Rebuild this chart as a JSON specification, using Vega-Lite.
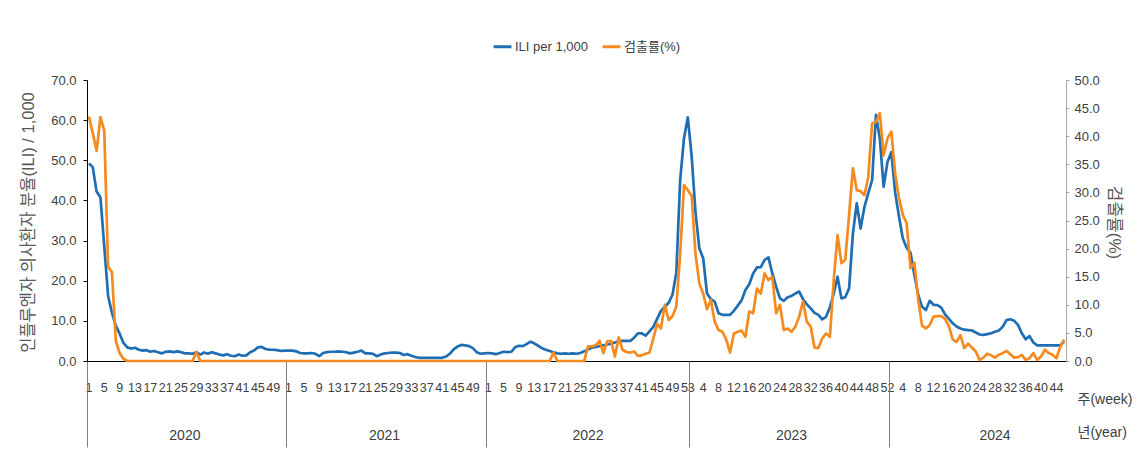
{
"$schema": "https://vega.github.io/schema/vega-lite/v6.json",
"width": 979, "height": 281,
"autosize": {"type": "none"},
"padding": {"left": 87, "top": 80, "right": 72, "bottom": 113},
"background": "white",
"config": {"view": {"stroke": null}, "font": "Liberation Sans, Noto Sans CJK KR, sans-serif",
  "axis": {"grid": false, "labelFont": "Liberation Sans, Noto Sans CJK KR, sans-serif", "titleFont": "Liberation Sans, Noto Sans CJK KR, sans-serif", "labelColor": "#404040", "titleColor": "#404040", "titleFontWeight": "normal"},
  "legend": {"labelFont": "Liberation Sans, Noto Sans CJK KR, sans-serif"}},
"datasets": {"flu": [
{"t":"2020-01","ili":49.2,"det":43.5},{"t":"2020-02","ili":48.3,"det":40.5},{"t":"2020-03","ili":42.2,"det":37.4},{"t":"2020-04","ili":40.8,"det":43.4},{"t":"2020-05","ili":28.5,"det":41.0},{"t":"2020-06","ili":16.2,"det":16.8},{"t":"2020-07","ili":12.0,"det":15.8},{"t":"2020-08","ili":8.8,"det":3.6},{"t":"2020-09","ili":6.8,"det":1.4},{"t":"2020-10","ili":4.5,"det":0.4},
{"t":"2020-11","ili":3.4,"det":0},{"t":"2020-12","ili":3.1,"det":0},{"t":"2020-13","ili":3.3,"det":0},{"t":"2020-14","ili":2.8,"det":0},{"t":"2020-15","ili":2.6,"det":0},{"t":"2020-16","ili":2.7,"det":0},{"t":"2020-17","ili":2.3,"det":0},{"t":"2020-18","ili":2.5,"det":0},{"t":"2020-19","ili":2.2,"det":0},{"t":"2020-20","ili":1.9,"det":0},
{"t":"2020-21","ili":2.3,"det":0},{"t":"2020-22","ili":2.4,"det":0},{"t":"2020-23","ili":2.2,"det":0},{"t":"2020-24","ili":2.4,"det":0},{"t":"2020-25","ili":2.2,"det":0},{"t":"2020-26","ili":1.9,"det":0},{"t":"2020-27","ili":1.9,"det":0},{"t":"2020-28","ili":1.8,"det":0},{"t":"2020-29","ili":2.2,"det":1.6},{"t":"2020-30","ili":1.6,"det":0},
{"t":"2020-31","ili":2.1,"det":0},{"t":"2020-32","ili":1.8,"det":0},{"t":"2020-33","ili":2.2,"det":0},{"t":"2020-34","ili":1.9,"det":0},{"t":"2020-35","ili":1.6,"det":0},{"t":"2020-36","ili":1.4,"det":0},{"t":"2020-37","ili":1.7,"det":0},{"t":"2020-38","ili":1.3,"det":0},{"t":"2020-39","ili":1.2,"det":0},{"t":"2020-40","ili":1.6,"det":0},
{"t":"2020-41","ili":1.3,"det":0},{"t":"2020-42","ili":1.4,"det":0},{"t":"2020-43","ili":2.2,"det":0},{"t":"2020-44","ili":2.6,"det":0},{"t":"2020-45","ili":3.4,"det":0},{"t":"2020-46","ili":3.5,"det":0},{"t":"2020-47","ili":3.0,"det":0},{"t":"2020-48","ili":2.8,"det":0},{"t":"2020-49","ili":2.8,"det":0},{"t":"2020-50","ili":2.7,"det":0},
{"t":"2020-51","ili":2.5,"det":0},{"t":"2020-52","ili":2.6,"det":0},
{"t":"2021-01","ili":2.6,"det":0},{"t":"2021-02","ili":2.6,"det":0},{"t":"2021-03","ili":2.4,"det":0},{"t":"2021-04","ili":2.0,"det":0},{"t":"2021-05","ili":1.9,"det":0},{"t":"2021-06","ili":1.9,"det":0},{"t":"2021-07","ili":2.0,"det":0},{"t":"2021-08","ili":1.8,"det":0},{"t":"2021-09","ili":1.2,"det":0},{"t":"2021-10","ili":2.0,"det":0},
{"t":"2021-11","ili":2.2,"det":0},{"t":"2021-12","ili":2.3,"det":0},{"t":"2021-13","ili":2.3,"det":0},{"t":"2021-14","ili":2.4,"det":0},{"t":"2021-15","ili":2.3,"det":0},{"t":"2021-16","ili":2.2,"det":0},{"t":"2021-17","ili":1.9,"det":0},{"t":"2021-18","ili":2.1,"det":0},{"t":"2021-19","ili":2.3,"det":0},{"t":"2021-20","ili":2.6,"det":0},
{"t":"2021-21","ili":1.9,"det":0},{"t":"2021-22","ili":1.9,"det":0},{"t":"2021-23","ili":1.8,"det":0},{"t":"2021-24","ili":1.2,"det":0},{"t":"2021-25","ili":1.6,"det":0},{"t":"2021-26","ili":1.9,"det":0},{"t":"2021-27","ili":2.0,"det":0},{"t":"2021-28","ili":2.1,"det":0},{"t":"2021-29","ili":2.1,"det":0},{"t":"2021-30","ili":2.0,"det":0},
{"t":"2021-31","ili":1.5,"det":0},{"t":"2021-32","ili":1.7,"det":0},{"t":"2021-33","ili":1.3,"det":0},{"t":"2021-34","ili":1.0,"det":0},{"t":"2021-35","ili":0.8,"det":0},{"t":"2021-36","ili":0.8,"det":0},{"t":"2021-37","ili":0.8,"det":0},{"t":"2021-38","ili":0.8,"det":0},{"t":"2021-39","ili":0.8,"det":0},{"t":"2021-40","ili":0.8,"det":0},
{"t":"2021-41","ili":0.8,"det":0},{"t":"2021-42","ili":1.1,"det":0},{"t":"2021-43","ili":1.8,"det":0},{"t":"2021-44","ili":2.9,"det":0},{"t":"2021-45","ili":3.6,"det":0},{"t":"2021-46","ili":4.0,"det":0},{"t":"2021-47","ili":3.9,"det":0},{"t":"2021-48","ili":3.7,"det":0},{"t":"2021-49","ili":3.2,"det":0},{"t":"2021-50","ili":2.2,"det":0},
{"t":"2021-51","ili":1.8,"det":0},{"t":"2021-52","ili":1.9,"det":0},
{"t":"2022-01","ili":2.0,"det":0},{"t":"2022-02","ili":1.9,"det":0},{"t":"2022-03","ili":1.7,"det":0},{"t":"2022-04","ili":2.0,"det":0},{"t":"2022-05","ili":2.3,"det":0},{"t":"2022-06","ili":2.2,"det":0},{"t":"2022-07","ili":2.3,"det":0},{"t":"2022-08","ili":3.4,"det":0},{"t":"2022-09","ili":3.8,"det":0},{"t":"2022-10","ili":3.7,"det":0},
{"t":"2022-11","ili":4.2,"det":0},{"t":"2022-12","ili":4.8,"det":0},{"t":"2022-13","ili":4.4,"det":0},{"t":"2022-14","ili":3.8,"det":0},{"t":"2022-15","ili":3.2,"det":0},{"t":"2022-16","ili":2.8,"det":0},{"t":"2022-17","ili":2.5,"det":0},{"t":"2022-18","ili":2.2,"det":1.5},{"t":"2022-19","ili":1.9,"det":0},{"t":"2022-20","ili":1.8,"det":0},
{"t":"2022-21","ili":1.9,"det":0},{"t":"2022-22","ili":1.8,"det":0},{"t":"2022-23","ili":1.9,"det":0},{"t":"2022-24","ili":1.8,"det":0},{"t":"2022-25","ili":2.0,"det":0},{"t":"2022-26","ili":2.4,"det":0},{"t":"2022-27","ili":2.9,"det":2.6},{"t":"2022-28","ili":3.3,"det":2.6},{"t":"2022-29","ili":3.5,"det":2.8},{"t":"2022-30","ili":3.7,"det":3.6},
{"t":"2022-31","ili":3.9,"det":1.4},{"t":"2022-32","ili":4.1,"det":3.5},{"t":"2022-33","ili":4.3,"det":3.6},{"t":"2022-34","ili":4.6,"det":0.8},{"t":"2022-35","ili":4.9,"det":4.2},{"t":"2022-36","ili":5.0,"det":2.0},{"t":"2022-37","ili":5.0,"det":1.6},{"t":"2022-38","ili":5.0,"det":1.5},{"t":"2022-39","ili":5.8,"det":1.7},{"t":"2022-40","ili":6.9,"det":0.9},
{"t":"2022-41","ili":6.9,"det":1.0},{"t":"2022-42","ili":6.3,"det":1.3},{"t":"2022-43","ili":7.4,"det":1.5},{"t":"2022-44","ili":8.5,"det":4.0},{"t":"2022-45","ili":10.5,"det":6.6},{"t":"2022-46","ili":12.5,"det":5.8},{"t":"2022-47","ili":13.5,"det":10.0},{"t":"2022-48","ili":14.5,"det":7.3},{"t":"2022-49","ili":16.5,"det":8.0},{"t":"2022-50","ili":22.0,"det":9.7},
{"t":"2022-51","ili":45.0,"det":19.0},{"t":"2022-52","ili":55.5,"det":31.3},{"t":"2022-53","ili":60.7,"det":30.4},
{"t":"2023-01","ili":51.0,"det":29.4},{"t":"2023-02","ili":37.0,"det":19.0},{"t":"2023-03","ili":28.0,"det":13.8},{"t":"2023-04","ili":25.6,"det":12.0},{"t":"2023-05","ili":16.8,"det":9.2},{"t":"2023-06","ili":15.4,"det":10.9},{"t":"2023-07","ili":14.8,"det":7.0},{"t":"2023-08","ili":11.9,"det":5.5},{"t":"2023-09","ili":11.5,"det":5.2},{"t":"2023-10","ili":11.5,"det":3.8},
{"t":"2023-11","ili":11.5,"det":1.5},{"t":"2023-12","ili":12.5,"det":4.9},{"t":"2023-13","ili":13.8,"det":5.2},{"t":"2023-14","ili":15.1,"det":5.4},{"t":"2023-15","ili":17.7,"det":4.3},{"t":"2023-16","ili":19.1,"det":8.8},{"t":"2023-17","ili":21.8,"det":8.5},{"t":"2023-18","ili":23.3,"det":12.9},{"t":"2023-19","ili":23.4,"det":12.0},{"t":"2023-20","ili":25.2,"det":15.6},
{"t":"2023-21","ili":25.8,"det":14.4},{"t":"2023-22","ili":21.8,"det":15.0},{"t":"2023-23","ili":18.5,"det":8.5},{"t":"2023-24","ili":15.6,"det":10.0},{"t":"2023-25","ili":15.0,"det":5.5},{"t":"2023-26","ili":15.9,"det":5.8},{"t":"2023-27","ili":16.2,"det":5.2},{"t":"2023-28","ili":16.8,"det":6.1},{"t":"2023-29","ili":17.3,"det":7.9},{"t":"2023-30","ili":15.4,"det":10.6},
{"t":"2023-31","ili":14.1,"det":7.0},{"t":"2023-32","ili":13.1,"det":6.1},{"t":"2023-33","ili":12.0,"det":2.4},{"t":"2023-34","ili":11.5,"det":2.3},{"t":"2023-35","ili":10.4,"det":4.0},{"t":"2023-36","ili":11.0,"det":4.9},{"t":"2023-37","ili":13.4,"det":4.3},{"t":"2023-38","ili":16.8,"det":14.4},{"t":"2023-39","ili":21.0,"det":22.4},{"t":"2023-40","ili":15.6,"det":17.4},
{"t":"2023-41","ili":15.9,"det":18.0},{"t":"2023-42","ili":18.1,"det":26.0},{"t":"2023-43","ili":31.8,"det":34.3},{"t":"2023-44","ili":39.3,"det":30.4},{"t":"2023-45","ili":33.0,"det":30.2},{"t":"2023-46","ili":38.4,"det":29.5},{"t":"2023-47","ili":41.8,"det":32.8},{"t":"2023-48","ili":45.1,"det":42.3},{"t":"2023-49","ili":61.3,"det":42.5},{"t":"2023-50","ili":55.5,"det":44.1},
{"t":"2023-51","ili":43.4,"det":36.6},{"t":"2023-52","ili":49.6,"det":39.6},
{"t":"2024-01","ili":52.0,"det":40.8},{"t":"2024-02","ili":42.0,"det":33.4},{"t":"2024-03","ili":36.0,"det":29.0},{"t":"2024-04","ili":30.5,"det":26.0},{"t":"2024-05","ili":28.2,"det":24.5},{"t":"2024-06","ili":27.0,"det":16.5},{"t":"2024-07","ili":21.5,"det":17.5},{"t":"2024-08","ili":16.5,"det":11.0},{"t":"2024-09","ili":13.5,"det":6.3},{"t":"2024-10","ili":12.7,"det":5.8},
{"t":"2024-11","ili":15.0,"det":6.4},{"t":"2024-12","ili":14.0,"det":7.9},{"t":"2024-13","ili":13.9,"det":8.0},{"t":"2024-14","ili":13.3,"det":8.0},{"t":"2024-15","ili":11.6,"det":7.5},{"t":"2024-16","ili":10.5,"det":6.2},{"t":"2024-17","ili":9.4,"det":3.8},{"t":"2024-18","ili":8.6,"det":3.4},{"t":"2024-19","ili":8.1,"det":4.6},{"t":"2024-20","ili":7.8,"det":2.3},
{"t":"2024-21","ili":7.7,"det":3.1},{"t":"2024-22","ili":7.6,"det":2.4},{"t":"2024-23","ili":7.1,"det":1.7},{"t":"2024-24","ili":6.6,"det":0.2},{"t":"2024-25","ili":6.5,"det":0.6},{"t":"2024-26","ili":6.7,"det":1.3},{"t":"2024-27","ili":6.9,"det":1.0},{"t":"2024-28","ili":7.3,"det":0.6},{"t":"2024-29","ili":7.6,"det":1.1},{"t":"2024-30","ili":8.5,"det":1.4},
{"t":"2024-31","ili":10.2,"det":1.8},{"t":"2024-32","ili":10.4,"det":1.2},{"t":"2024-33","ili":10.0,"det":0.6},{"t":"2024-34","ili":9.0,"det":0.7},{"t":"2024-35","ili":6.9,"det":1.1},{"t":"2024-36","ili":5.4,"det":0.2},{"t":"2024-37","ili":6.2,"det":0.5},{"t":"2024-38","ili":4.6,"det":1.4},{"t":"2024-39","ili":3.9,"det":0.2},{"t":"2024-40","ili":3.9,"det":0.8},
{"t":"2024-41","ili":3.9,"det":2.0},{"t":"2024-42","ili":3.9,"det":1.4},{"t":"2024-43","ili":3.9,"det":1.1},{"t":"2024-44","ili":3.9,"det":0.5},{"t":"2024-45","ili":3.9,"det":2.5},{"t":"2024-46","ili":4.8,"det":3.8}
]},
"data": {"name": "flu"},
"resolve": {"scale": {"y": "independent"}, "axis": {"x": "independent", "y": "independent"}},
"layer": [
 {"mark": {"type": "line", "strokeWidth": 2.7, "strokeJoin": "round"},
  "encoding": {
   "x": {"field": "t", "type": "ordinal", "bandPosition": 0.5,
     "scale": {"type": "band", "paddingInner": 0, "paddingOuter": 0},
     "axis": {"orient": "bottom",
       "values": ["2020-01","2020-05","2020-09","2020-13","2020-17","2020-21","2020-25","2020-29","2020-33","2020-37","2020-41","2020-45","2020-49",
                  "2021-01","2021-05","2021-09","2021-13","2021-17","2021-21","2021-25","2021-29","2021-33","2021-37","2021-41","2021-45","2021-49",
                  "2022-01","2022-05","2022-09","2022-13","2022-17","2022-21","2022-25","2022-29","2022-33","2022-37","2022-41","2022-45","2022-49","2022-53",
                  "2023-04","2023-08","2023-12","2023-16","2023-20","2023-24","2023-28","2023-32","2023-36","2023-40","2023-44","2023-48","2023-52",
                  "2024-04","2024-08","2024-12","2024-16","2024-20","2024-24","2024-28","2024-32","2024-36","2024-40","2024-44"],
       "labelExpr": "parseInt(slice(datum.value, 5))",
       "ticks": false, "domainColor": "#000000", "domainWidth": 1,
       "labelAngle": 0, "labelFontSize": 12.5, "labelPadding": 20, "labelOverlap": false, "labelBound": false, "labelFlush": false,
       "title": "주(week)", "titleX": 990, "titleY": 38, "titleAngle": 0, "titleAlign": "left", "titleBaseline": "middle", "titleFontSize": 14}},
   "y": {"field": "ili", "type": "quantitative",
     "scale": {"domain": [0, 70], "nice": false},
     "axis": {"orient": "left", "values": [0,10,20,30,40,50,60,70], "format": ".1f",
       "domainColor": "#000000", "tickColor": "#000000", "tickSize": 4, "labelPadding": 7, "labelFontSize": 13,
       "title": "인플루엔자 의사환자 분율(ILI) / 1,000", "titleX": -59, "titleY": 142, "titleAngle": -90, "titleAlign": "center", "titleBaseline": "middle", "titleFontSize": 16.5, "titleColor": "#595959"}},
   "color": {"datum": "ILI per 1,000", "type": "nominal",
     "scale": {"domain": ["ILI per 1,000", "검출률(%)"], "range": ["#1f6eb3", "#f58a1f"]},
     "legend": {"orient": "none", "legendX": 405, "legendY": -44, "direction": "horizontal", "title": null,
       "symbolType": "stroke", "symbolStrokeWidth": 3, "symbolSize": 320, "labelFontSize": 13, "labelColor": "#404040",
       "columnPadding": 8, "labelOffset": 2, "padding": 0}}
  }},
 {"mark": {"type": "line", "strokeWidth": 2.7, "strokeJoin": "round"},
  "encoding": {
   "x": {"field": "t", "type": "ordinal", "bandPosition": 0.5,
     "axis": {"orient": "bottom", "values": ["2020-26","2021-26","2022-27","2023-27","2024-28"],
       "labelExpr": "slice(datum.value, 0, 4)", "ticks": false, "domain": false,
       "labelAngle": 0, "labelFontSize": 14, "labelPadding": 67, "labelOverlap": false, "labelBound": false, "labelFlush": false,
       "title": "년(year)", "titleX": 990, "titleY": 71, "titleAngle": 0, "titleAlign": "left", "titleBaseline": "middle", "titleFontSize": 14}},
   "y": {"field": "det", "type": "quantitative",
     "scale": {"domain": [0, 50], "nice": false},
     "axis": {"orient": "right", "values": [0,5,10,15,20,25,30,35,40,45,50], "format": ".1f",
       "domainColor": "#a6a6a6", "tickColor": "#a6a6a6", "tickSize": 3, "labelPadding": 5, "labelFontSize": 13,
       "title": "검출률(%)", "titleX": 47, "titleY": 142, "titleAngle": 90, "titleAlign": "center", "titleBaseline": "middle", "titleFontSize": 17, "titleColor": "#595959"}},
   "color": {"datum": "검출률(%)", "type": "nominal"}
  }},
 {"mark": {"type": "line", "opacity": 0},
  "encoding": {
   "x": {"field": "t", "type": "ordinal",
     "axis": {"orient": "bottom", "values": ["2020-01","2021-01","2022-01","2023-01","2024-01"],
       "labels": false, "domain": false, "ticks": true, "tickSize": 86, "tickColor": "#808080", "tickWidth": 1, "bandPosition": 0, "title": null,
       "encode": {"ticks": {"update": {"x": {"signal": "scale('x', datum.value) + (datum.value === '2020-01' ? 0 : 3.7)"}}}}}},
   "y": {"field": "ili", "type": "quantitative", "scale": {"domain": [0, 70], "nice": false}, "axis": null}
  }}
]
}
